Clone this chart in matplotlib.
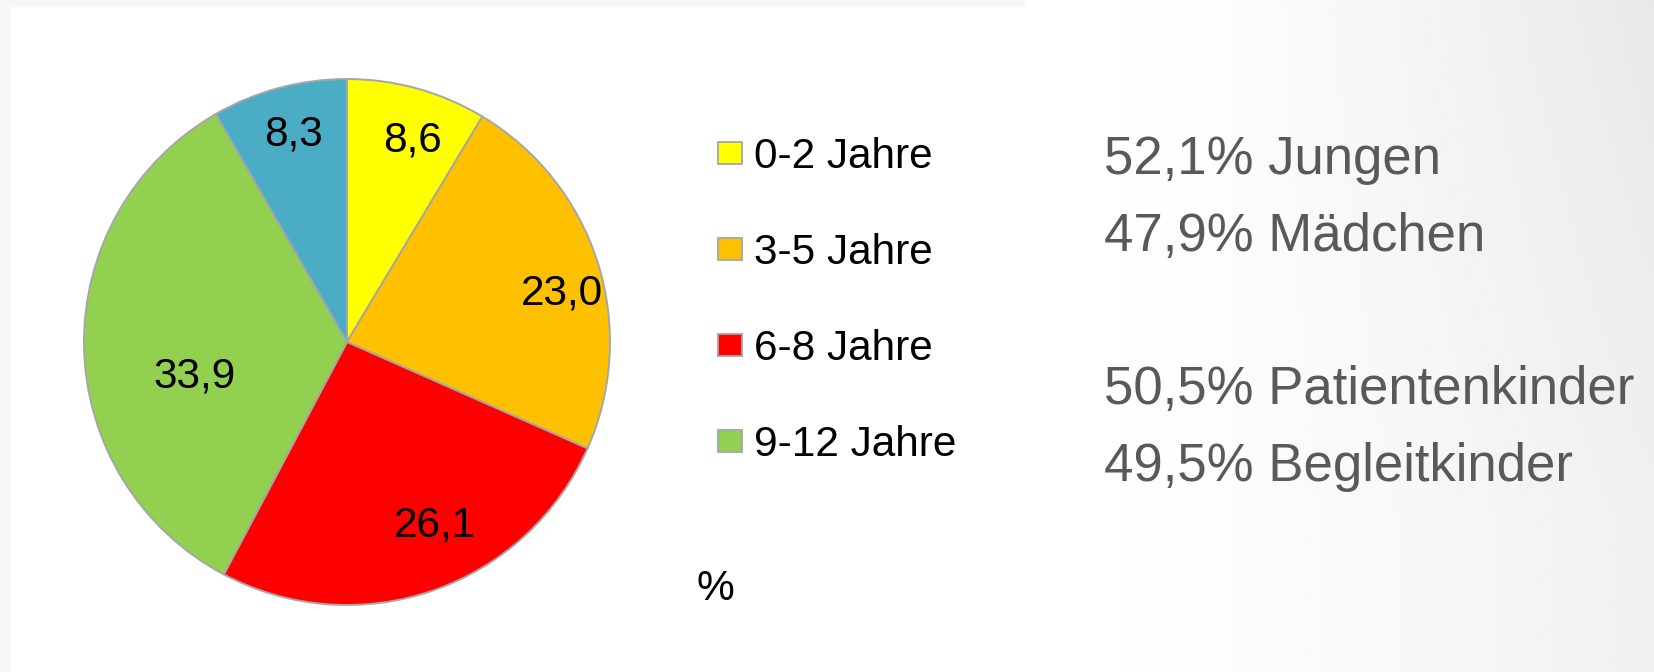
"""
Altersverteilung der Kinder - Kreisdiagramm
"""
import numpy as np
import matplotlib
matplotlib.use("Agg")
import matplotlib.pyplot as plt
from matplotlib.patches import Rectangle

# data
age_groups = ["0-2 Jahre", "3-5 Jahre", "6-8 Jahre", "9-12 Jahre", ""]
shares = [8.6, 23.0, 26.1, 33.9, 8.3]
slice_colors = ["#FFFF00", "#FFC000", "#FF0000", "#92D050", "#4BACC6"]
label_dist = [0.82, 0.84, 0.76, 0.59, 0.83]
label_turn = [-2.3, -3.8, 7.0, 10.2, -0.8]
side_lines = ["52,1% Jungen", "47,9% Mädchen", "50,5% Patientenkinder",
              "49,5% Begleitkinder"]

W, H = 1654, 672
plt.rcParams["font.family"] = ["Liberation Sans", "DejaVu Sans"]


def main():
    fig = plt.figure(figsize=(W / 100, H / 100), dpi=100)

    # background: white slide with soft grey gradient to the right
    bg = fig.add_axes([0, 0, 1, 1], zorder=-10)
    xx = np.linspace(0, 1, 800)
    yy = np.linspace(0, 1, 300)
    gx, gy = np.meshgrid(xx, yy)
    shade = np.clip((gx - 0.62) / 0.38, 0, 1) ** 1.5 * 0.06
    shade += np.clip((gx - 0.75) / 0.25, 0, 1) * np.clip(1 - gy * 1.3, 0, 1) * 0.03
    img = 1 - shade
    img[:, : int(800 * 12 / W)] = 0.965
    img[: int(300 * 7 / H), : int(800 * 0.62)] = 0.965
    bg.imshow(img, cmap="gray", vmin=0, vmax=1, extent=[0, 1, 0, 1],
              aspect="auto", origin="upper", interpolation="bilinear")
    bg.set_xlim(0, 1)
    bg.set_ylim(0, 1)
    bg.set_axis_off()

    # pie: centre (347, 342), radius 263 px
    cx, cy, r = 347, 342, 263
    ax = fig.add_axes([(cx - r) / W, (H - cy - r) / H, 2 * r / W, 2 * r / H])
    wedges, _ = ax.pie(shares, colors=slice_colors, startangle=90,
                       counterclock=False, radius=1,
                       wedgeprops=dict(edgecolor="#a6a6a6", linewidth=1.4))
    ax.set_aspect("auto")
    ax.set_xlim(-1, 1)
    ax.set_ylim(-1, 1)
    fs_lab = 30.5
    for wed, val, dist, turn in zip(wedges, shares, label_dist, label_turn):
        ang = np.deg2rad((wed.theta1 + wed.theta2) / 2 + turn)
        ax.annotate(f"{val:.1f}".replace(".", ","),
                    xy=(dist * np.cos(ang), dist * np.sin(ang)),
                    xytext=(0, -0.355 * fs_lab), textcoords="offset points",
                    ha="center", va="baseline", fontsize=fs_lab, color="black")

    # legend (only the four named groups)
    fs_leg = 30.5
    for i, wed in enumerate(wedges[:4]):
        yc = 153 + 96 * i
        fig.patches.append(Rectangle((718 / W, 1 - (yc + 11) / H), 24 / W,
                                     22 / H, transform=fig.transFigure,
                                     facecolor=wed.get_facecolor(),
                                     edgecolor="#a6a6a6", linewidth=1.3))
        fig.text(754 / W, 1 - (yc + 15) / H, age_groups[i], fontsize=fs_leg,
                 ha="left", va="baseline", color="black")

    fig.text(715 / W, 1 - 600 / H, "%", fontsize=fs_leg, ha="center",
             va="baseline", color="black")

    # side notes
    baselines = [174, 251, 404, 481]
    for line, base in zip(side_lines, baselines):
        fig.text(1104 / W, 1 - base / H, line, fontsize=38,
                 color="#595959", ha="left", va="baseline")

    fig.savefig("out.png", dpi=100)


if __name__ == "__main__":
    main()
